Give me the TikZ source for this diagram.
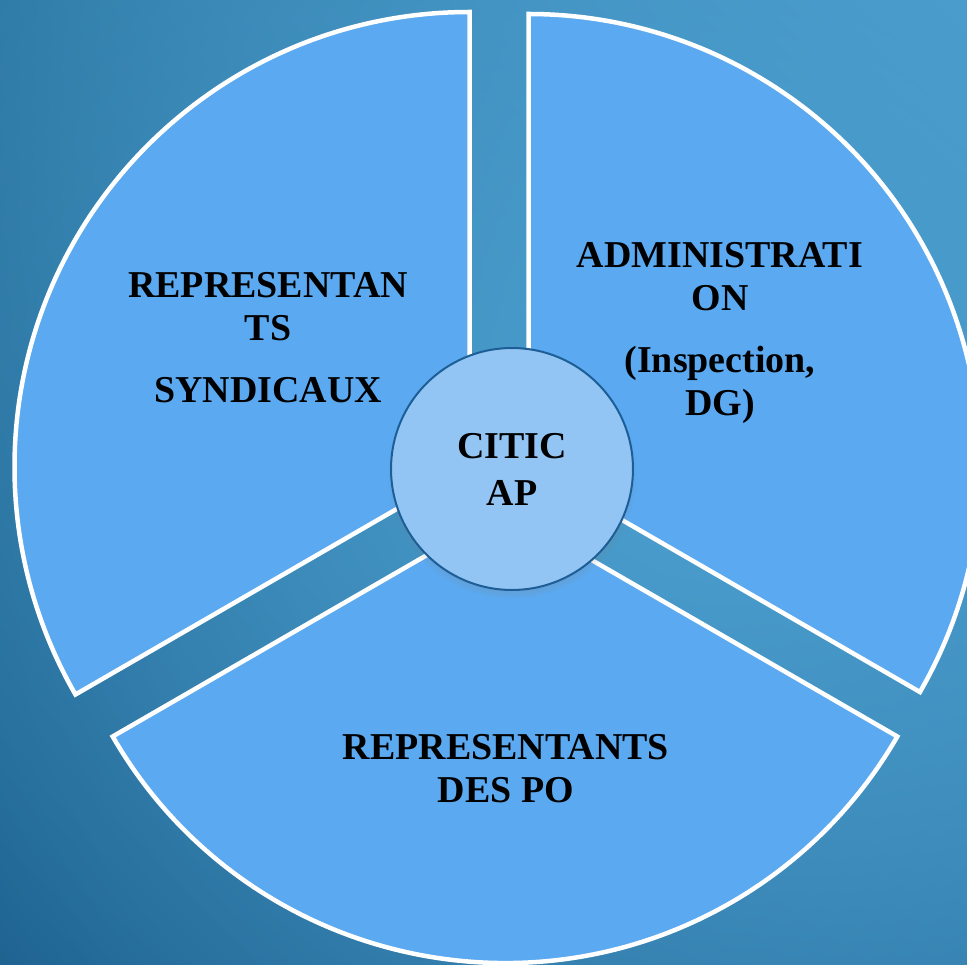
\documentclass[tikz,border=0pt]{standalone}
\usepackage{fontspec}
\setmainfont{Liberation Serif}
\usetikzlibrary{shadows, fadings, shadings}

\definecolor{bgdark}{HTML}{145582}
\definecolor{bglight}{HTML}{4898C8}
\definecolor{bgtopleft}{HTML}{27709B}
\definecolor{bgbotright}{HTML}{286F9E}
\definecolor{bgglow}{HTML}{4CA0D0}
\definecolor{slicefill}{HTML}{5BA9F0}
\definecolor{hubfill}{HTML}{92C5F4}
\definecolor{hubline}{HTML}{1E5E96}

\tikzfading[name=glowfade, inner color=transparent!0, outer color=transparent!100]

\begin{document}
\begin{tikzpicture}[x=0.02cm, y=0.02cm,
        slice/.style={fill=slicefill, draw=white, line width=0.09cm, line join=miter},
        hub/.style={circle, fill=hubfill, draw=hubline, line width=0.04cm, inner sep=0pt,
            minimum size=4.84cm, align=center,
            font=\bfseries\fontsize{21.6}{26.8}\selectfont,
            circular drop shadow={shadow scale=1.03, shadow xshift=0pt, shadow yshift=-0.1cm, opacity=0.45}},
        slicetext/.style={align=center, font=\bfseries\fontsize{21.6}{24.5}\selectfont}]

        \useasboundingbox (0,0) rectangle (967,964);

        %% BACKGROUND
        \begin{scope}
        \clip (0,0) rectangle (967,964);
        \shade[lower left=bgdark, upper right=bglight, upper left=bgtopleft, lower right=bgbotright]
            (0,0) rectangle (967,964);
        \fill[bgglow, path fading=glowfade] (700,544) circle (1100);

        %% SLICES
        % left, right and bottom, each pushed out from the middle
        \draw[slice] (469.5,497) -- ++(90:455) arc[start angle=90, end angle=210, radius=455] -- cycle;
        \draw[slice] (528.5,498) -- ++(-30:452) arc[start angle=-30, end angle=90, radius=452] -- cycle;
        \draw[slice] (505,454) -- ++(210:453) arc[start angle=210, end angle=330, radius=453] -- cycle;
        \end{scope}

        %% TEXTS
        \node[slicetext] (syndicaux) at (268,626) {REPRESENTAN\\TS\\[0.38cm]SYNDICAUX};
        \node[slicetext] (admin) at (720,631) {ADMINISTRATI\\ON\\[0.38cm](Inspection,\\DG)};
        \node[slicetext] (po) at (506,195) {REPRESENTANTS\\DES PO};

        %% HUB
        \node[hub] (citicap) at (512,495) {CITIC\\AP};

    \end{tikzpicture}
\end{document}
